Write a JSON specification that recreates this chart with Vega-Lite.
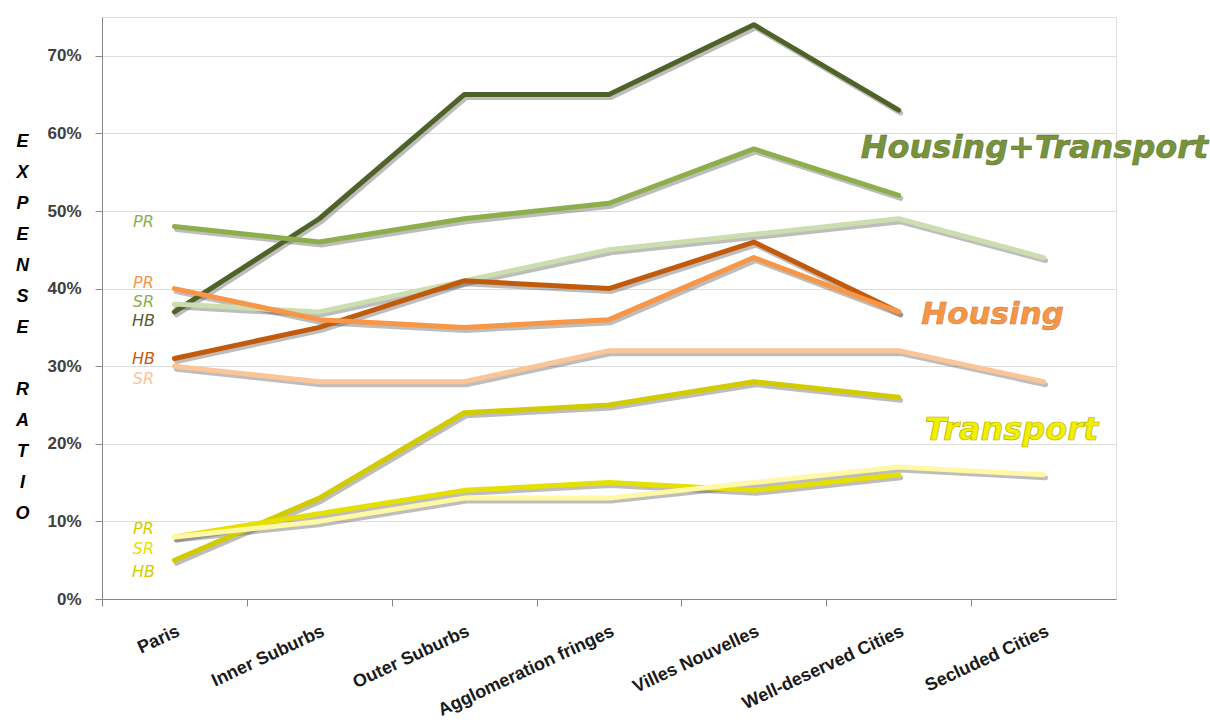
{
  "$schema": "https://vega.github.io/schema/vega-lite/v6.json",
  "autosize": "none",
  "width": 1014,
  "height": 582,
  "padding": {"left": 102, "top": 17, "right": 94, "bottom": 123},
  "background": "white",
  "datasets": {
    "lines": [
      {"area": "Paris", "series": "H+T HB", "v": 0.37},
      {"area": "Inner Suburbs", "series": "H+T HB", "v": 0.49},
      {"area": "Outer Suburbs", "series": "H+T HB", "v": 0.65},
      {"area": "Agglomeration fringes", "series": "H+T HB", "v": 0.65},
      {"area": "Villes Nouvelles", "series": "H+T HB", "v": 0.74},
      {"area": "Well-deserved Cities", "series": "H+T HB", "v": 0.63},
      {"area": "Paris", "series": "H+T PR", "v": 0.48},
      {"area": "Inner Suburbs", "series": "H+T PR", "v": 0.46},
      {"area": "Outer Suburbs", "series": "H+T PR", "v": 0.49},
      {"area": "Agglomeration fringes", "series": "H+T PR", "v": 0.51},
      {"area": "Villes Nouvelles", "series": "H+T PR", "v": 0.58},
      {"area": "Well-deserved Cities", "series": "H+T PR", "v": 0.52},
      {"area": "Paris", "series": "H+T SR", "v": 0.38},
      {"area": "Inner Suburbs", "series": "H+T SR", "v": 0.37},
      {"area": "Outer Suburbs", "series": "H+T SR", "v": 0.41},
      {"area": "Agglomeration fringes", "series": "H+T SR", "v": 0.45},
      {"area": "Villes Nouvelles", "series": "H+T SR", "v": 0.47},
      {"area": "Well-deserved Cities", "series": "H+T SR", "v": 0.49},
      {"area": "Secluded Cities", "series": "H+T SR", "v": 0.44},
      {"area": "Paris", "series": "H HB", "v": 0.31},
      {"area": "Inner Suburbs", "series": "H HB", "v": 0.35},
      {"area": "Outer Suburbs", "series": "H HB", "v": 0.41},
      {"area": "Agglomeration fringes", "series": "H HB", "v": 0.40},
      {"area": "Villes Nouvelles", "series": "H HB", "v": 0.46},
      {"area": "Well-deserved Cities", "series": "H HB", "v": 0.37},
      {"area": "Paris", "series": "H PR", "v": 0.40},
      {"area": "Inner Suburbs", "series": "H PR", "v": 0.36},
      {"area": "Outer Suburbs", "series": "H PR", "v": 0.35},
      {"area": "Agglomeration fringes", "series": "H PR", "v": 0.36},
      {"area": "Villes Nouvelles", "series": "H PR", "v": 0.44},
      {"area": "Well-deserved Cities", "series": "H PR", "v": 0.37},
      {"area": "Paris", "series": "H SR", "v": 0.30},
      {"area": "Inner Suburbs", "series": "H SR", "v": 0.28},
      {"area": "Outer Suburbs", "series": "H SR", "v": 0.28},
      {"area": "Agglomeration fringes", "series": "H SR", "v": 0.32},
      {"area": "Villes Nouvelles", "series": "H SR", "v": 0.32},
      {"area": "Well-deserved Cities", "series": "H SR", "v": 0.32},
      {"area": "Secluded Cities", "series": "H SR", "v": 0.28},
      {"area": "Paris", "series": "T HB", "v": 0.05},
      {"area": "Inner Suburbs", "series": "T HB", "v": 0.13},
      {"area": "Outer Suburbs", "series": "T HB", "v": 0.24},
      {"area": "Agglomeration fringes", "series": "T HB", "v": 0.25},
      {"area": "Villes Nouvelles", "series": "T HB", "v": 0.28},
      {"area": "Well-deserved Cities", "series": "T HB", "v": 0.26},
      {"area": "Paris", "series": "T PR", "v": 0.08},
      {"area": "Inner Suburbs", "series": "T PR", "v": 0.11},
      {"area": "Outer Suburbs", "series": "T PR", "v": 0.14},
      {"area": "Agglomeration fringes", "series": "T PR", "v": 0.15},
      {"area": "Villes Nouvelles", "series": "T PR", "v": 0.14},
      {"area": "Well-deserved Cities", "series": "T PR", "v": 0.16},
      {"area": "Paris", "series": "T SR", "v": 0.08},
      {"area": "Inner Suburbs", "series": "T SR", "v": 0.10},
      {"area": "Outer Suburbs", "series": "T SR", "v": 0.13},
      {"area": "Agglomeration fringes", "series": "T SR", "v": 0.13},
      {"area": "Villes Nouvelles", "series": "T SR", "v": 0.15},
      {"area": "Well-deserved Cities", "series": "T SR", "v": 0.17},
      {"area": "Secluded Cities", "series": "T SR", "v": 0.16}
    ],
    "small": [
      {"area": "Paris", "series": "H+T PR", "v": 0.486, "t": "PR"},
      {"area": "Paris", "series": "H PR", "v": 0.407, "t": "PR"},
      {"area": "Paris", "series": "H+T PR", "v": 0.383, "t": "SR"},
      {"area": "Paris", "series": "H+T HB", "v": 0.358, "t": "HB"},
      {"area": "Paris", "series": "H HB", "v": 0.309, "t": "HB"},
      {"area": "Paris", "series": "H SR", "v": 0.284, "t": "SR"},
      {"area": "Paris", "series": "T HB", "v": 0.090, "t": "PR"},
      {"area": "Paris", "series": "T PR", "v": 0.064, "t": "SR"},
      {"area": "Paris", "series": "T HB", "v": 0.035, "t": "HB"}
    ]
  },
  "encoding": {
    "x": {
      "field": "area",
      "type": "nominal",
      "sort": ["Paris", "Inner Suburbs", "Outer Suburbs", "Agglomeration fringes", "Villes Nouvelles", "Well-deserved Cities", "Secluded Cities"],
      "scale": {"type": "point", "padding": 0.5, "domain": ["Paris", "Inner Suburbs", "Outer Suburbs", "Agglomeration fringes", "Villes Nouvelles", "Well-deserved Cities", "Secluded Cities"]},
      "axis": {
        "title": null,
        "grid": false,
        "domainColor": "#868686",
        "tickColor": "#868686",
        "tickSize": 7,
        "tickOffset": -72.43,
        "labelOffset": 72.43,
        "labelAngle": -25,
        "labelAlign": "right",
        "labelBaseline": "top",
        "labelPadding": 16,
        "labelLimit": 0,
        "labelFont": "Liberation Sans",
        "labelFontWeight": "bold",
        "labelFontSize": 18,
        "labelColor": "#1a1a1a"
      }
    },
    "y": {
      "field": "v",
      "type": "quantitative",
      "scale": {"domain": [0, 0.75], "nice": false},
      "axis": {
        "values": [0, 0.1, 0.2, 0.3, 0.4, 0.5, 0.6, 0.7],
        "format": ".0%",
        "grid": true,
        "gridColor": "#dddddd",
        "domainColor": "#868686",
        "tickColor": "#868686",
        "tickSize": 7,
        "labelPadding": 14,
        "labelFont": "Liberation Sans",
        "labelFontWeight": "bold",
        "labelFontSize": 17,
        "labelColor": "#404040",
        "title": ["E", "X", "P", "E", "N", "S", "E", "\u2800", "R", "A", "T", "I", "O"],
        "titleAngle": 0,
        "titleX": -80,
        "titleY": 115,
        "titleAlign": "center",
        "titleBaseline": "top",
        "titleLineHeight": 31,
        "titleFont": "Liberation Sans",
        "titleFontStyle": "italic",
        "titleFontWeight": "bold",
        "titleFontSize": 18,
        "titleColor": "#000000"
      }
    }
  },
  "layer": [
    {
      "data": {"name": "lines"},
      "mark": {"type": "line", "strokeWidth": 5, "color": "#5a5a5a", "opacity": 0.4, "xOffset": 2, "yOffset": 3, "strokeCap": "round", "strokeJoin": "round"},
      "encoding": {"detail": {"field": "series"}}
    },
    {
      "data": {"name": "lines"},
      "mark": {"type": "line", "strokeWidth": 5, "strokeCap": "round", "strokeJoin": "round"},
      "encoding": {
        "color": {
          "field": "series",
          "type": "nominal",
          "legend": null,
          "scale": {
            "domain": ["H+T HB", "H+T PR", "H+T SR", "H HB", "H PR", "H SR", "T HB", "T PR", "T SR"],
            "range": ["#4F6228", "#8DAE4A", "#CCDDB0", "#C25A0C", "#F79646", "#FAC597", "#D2CB00", "#E5E000", "#FFF9A6"]
          }
        }
      }
    },
    {
      "data": {"name": "small"},
      "mark": {"type": "text", "dx": -31, "align": "center", "baseline": "middle", "font": "DejaVu Sans", "fontStyle": "italic", "fontSize": 16},
      "encoding": {
        "text": {"field": "t"},
        "color": {"field": "series", "type": "nominal", "legend": null}
      }
    },
    {
      "data": {"values": [{"area": "Secluded Cities", "v": 0.581, "t": "Housing+Transport"}]},
      "mark": {"type": "text", "dx": -9, "align": "center", "baseline": "middle", "font": "DejaVu Sans", "fontStyle": "italic", "fontWeight": "bold", "fontSize": 32, "color": "#77933C", "stroke": "#5a6e2c", "strokeWidth": 0.5},
      "encoding": {"text": {"field": "t"}}
    },
    {
      "data": {"values": [{"area": "Secluded Cities", "v": 0.366, "t": "Housing"}]},
      "mark": {"type": "text", "dx": -51, "align": "center", "baseline": "middle", "font": "DejaVu Sans", "fontStyle": "italic", "fontWeight": "bold", "fontSize": 31, "color": "#F79646", "stroke": "#c8783a", "strokeWidth": 0.5},
      "encoding": {"text": {"field": "t"}}
    },
    {
      "data": {"values": [{"area": "Secluded Cities", "v": 0.218, "t": "Transport"}]},
      "mark": {"type": "text", "dx": -32, "align": "center", "baseline": "middle", "font": "DejaVu Sans", "fontStyle": "italic", "fontWeight": "bold", "fontSize": 32, "color": "#F0F000", "stroke": "#B8B000", "strokeWidth": 0.7},
      "encoding": {"text": {"field": "t"}}
    }
  ]
}
